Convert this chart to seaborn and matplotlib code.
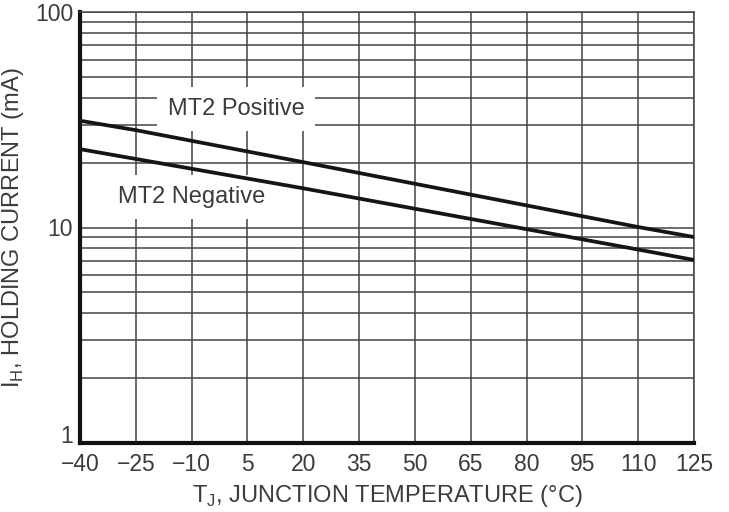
import pandas as pd
import seaborn as sns
import matplotlib.pyplot as plt
from matplotlib.ticker import LogLocator, NullFormatter, FixedLocator, FixedFormatter

# values
temp_pos = [-40, -25, 20, 110, 125]
ih_pos = [31.3, 28.3, 20.1, 10.05, 9.03]
temp_neg = [-40, -25, 20, 110, 125]
ih_neg = [23.1, 20.8, 15.2, 7.9, 7.07]
x_ticks = [-40, -25, -10, 5, 20, 35, 50, 65, 80, 95, 110, 125]
y_ticks = [1, 10, 100]
y_labels = ["1", "10", "100"]

df = pd.concat([
    pd.DataFrame({"temp": temp_pos, "ih": ih_pos, "series": "MT2 Positive"}),
    pd.DataFrame({"temp": temp_neg, "ih": ih_neg, "series": "MT2 Negative"}),
])

sns.set_style("white")
plt.rcParams['font.family'] = ['Liberation Sans', 'DejaVu Sans']
plt.rcParams['axes.unicode_minus'] = True

fig = plt.figure(figsize=(7.29, 5.12), dpi=100)
ax = fig.add_axes([80 / 729, 69 / 512, 614 / 729, 431 / 512])

sns.lineplot(data=df, x="temp", y="ih", hue="series", palette=["#151515", "#151515"],
             linewidth=2.7, legend=False, ax=ax, zorder=4)

ax.set_yscale("log")
ax.set_xlim(-40, 125)
ax.set_ylim(1, 100)

ax.xaxis.set_major_locator(FixedLocator(x_ticks))
ax.yaxis.set_major_locator(FixedLocator(y_ticks))
ax.yaxis.set_major_formatter(FixedFormatter(y_labels))
ax.yaxis.set_minor_locator(LogLocator(base=10, subs=range(2, 10)))
ax.yaxis.set_minor_formatter(NullFormatter())

ax.grid(True, which="both", axis="y", color="#444444", linewidth=1.1)
ax.grid(True, which="major", axis="x", color="#444444", linewidth=1.1)
ax.set_axisbelow(True)

ax.tick_params(which="both", length=0, labelsize=16.5, labelcolor="#3c3c3c")
ax.tick_params(axis="x", pad=7)
ax.tick_params(axis="y", pad=5)
ylabs = ax.get_yticklabels()
for lab in ylabs:
    lab.set_verticalalignment("center_baseline")
# the "1" sits a little above the corner so it clears "-40"
ylabs[0].set_verticalalignment("baseline")

for side in ["left", "bottom"]:
    ax.spines[side].set_linewidth(3)
    ax.spines[side].set_color("#111111")
for side in ["top", "right"]:
    ax.spines[side].set_linewidth(1.1)
    ax.spines[side].set_color("#444444")

ax.set_xlabel(r"T$_\mathregular{J}$, JUNCTION TEMPERATURE (°C)", fontsize=17, color="#3c3c3c", labelpad=5)
ax.set_ylabel(r"I$_\mathregular{H}$, HOLDING CURRENT (mA)", fontsize=17, color="#3c3c3c", labelpad=6)

box = dict(boxstyle="square,pad=0.45", facecolor="white", edgecolor="none")
ax.text(1.9, 35.5, "MT2 Positive", fontsize=17, color="#3c3c3c", ha="center", va="center",
        bbox=box, zorder=3)
ax.text(-9.9, 13.85, "MT2 Negative", fontsize=17, color="#3c3c3c", ha="center", va="center",
        bbox=box, zorder=3)

plt.savefig("out.png", dpi=100)
